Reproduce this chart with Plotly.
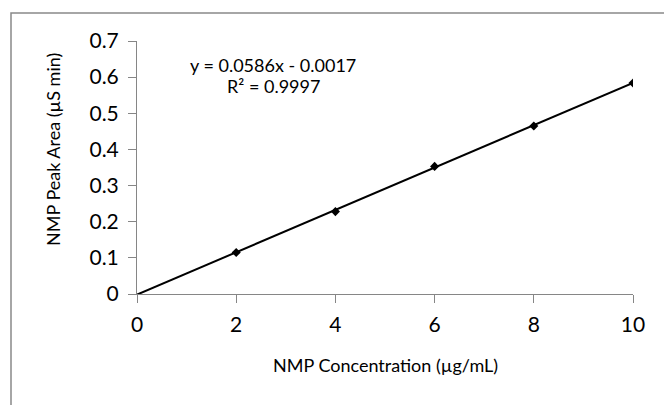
import plotly.graph_objects as go

# Data
conc = [2, 4, 6, 8, 10]
peak_area = [0.115, 0.228, 0.353, 0.465, 0.584]
slope = 0.0586
intercept = -0.0017
trend_x = [0, 10]
trend_y = [slope * v + intercept for v in trend_x]
x_ticks = [0, 2, 4, 6, 8, 10]
y_ticks = [0, 0.1, 0.2, 0.3, 0.4, 0.5, 0.6, 0.7]
y_ticklabels = ["0", "0.1", "0.2", "0.3", "0.4", "0.5", "0.6", "0.7"]

W, H = 664, 405
L, R, T, B = 137, 31, 41, 111
pw, ph = W - L - R, H - T - B

def px(x):
    return (x - L) / pw

def py(y):
    return (H - B - y) / ph

FONT = "Lato, Carlito, Calibri, sans-serif"
AX = "#868686"

fig = go.Figure()
fig.add_trace(go.Scatter(x=trend_x, y=trend_y, mode="lines",
                         line=dict(color="black", width=2), hoverinfo="skip",
                         showlegend=False))
fig.add_trace(go.Scatter(x=conc, y=peak_area, mode="markers",
                         marker=dict(symbol="diamond", size=7, color="black"),
                         showlegend=False))

fig.update_layout(
    width=W, height=H,
    margin=dict(l=L, r=R, t=T, b=B),
    paper_bgcolor="white", plot_bgcolor="white",
    font=dict(family=FONT, color="black"),
    xaxis=dict(range=[0, 10], tickvals=x_ticks, showgrid=False, zeroline=False,
               showline=True, linecolor=AX, linewidth=1,
               ticks="outside", ticklen=8, tickcolor=AX,
               ticklabelstandoff=4,
               tickfont=dict(size=21, family=FONT), fixedrange=True),
    yaxis=dict(range=[0, 0.7], tickvals=y_ticks, ticktext=y_ticklabels,
               showgrid=False, zeroline=False,
               showline=True, linecolor=AX, linewidth=1,
               ticks="outside", ticklen=8, tickcolor=AX,
               ticklabelstandoff=5,
               tickfont=dict(size=21, family=FONT), fixedrange=True),
    shapes=[dict(type="rect", xref="paper", yref="paper",
                 x0=px(11), y0=py(420), x1=px(680), y1=py(13),
                 line=dict(color="#898989", width=1.5), layer="below")],
    annotations=[
        dict(text="NMP Concentration (µg/mL)", xref="paper", yref="paper",
             x=px(385), y=py(365), showarrow=False, xanchor="center",
             yanchor="middle", font=dict(size=18, family=FONT)),
        dict(text="NMP Peak Area (µS min)", xref="paper", yref="paper",
             x=px(53), y=py(150), showarrow=False, textangle=-90,
             xanchor="center", yanchor="middle", font=dict(size=18, family=FONT)),
        dict(text="y = 0.0586x - 0.0017", xref="paper", yref="paper",
             x=px(273), y=py(65), showarrow=False, xanchor="center",
             yanchor="middle", font=dict(size=18, family=FONT)),
        dict(text="R² = 0.9997", xref="paper", yref="paper",
             x=px(273), y=py(86), showarrow=False, xanchor="center",
             yanchor="middle", font=dict(size=18, family=FONT)),
    ],
)

fig.write_html("out.html")
